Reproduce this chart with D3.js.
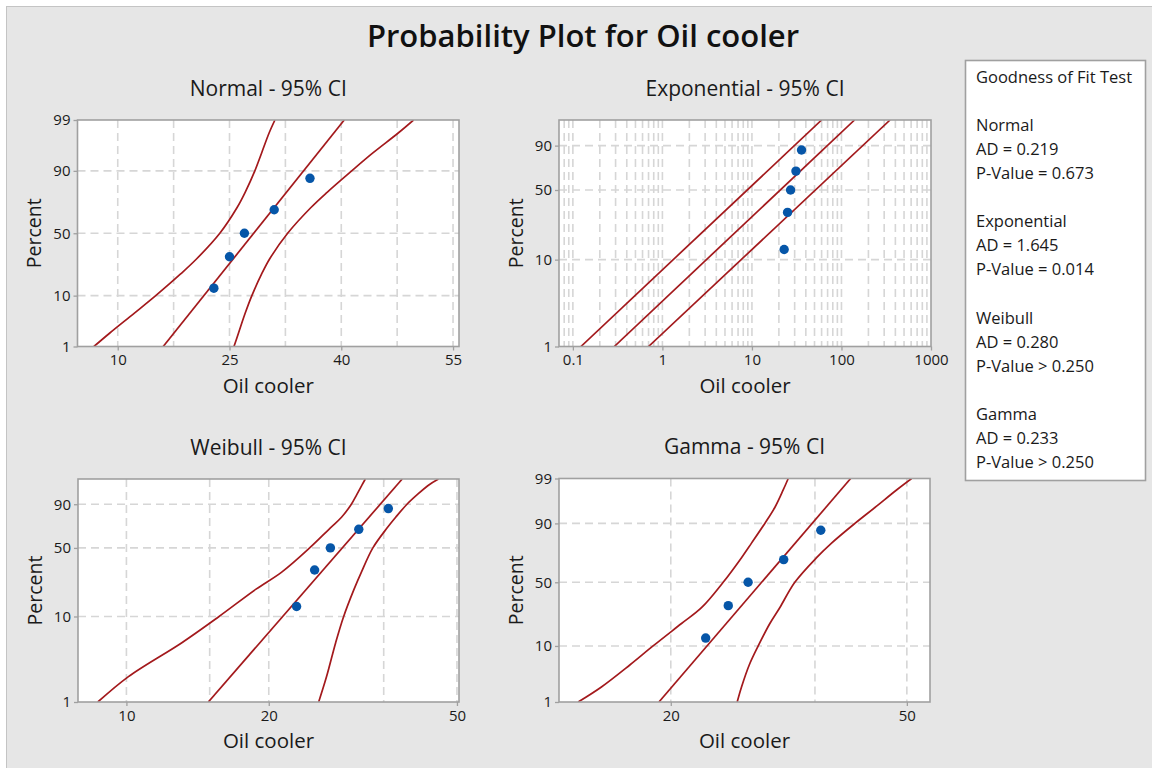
<!DOCTYPE html>
<html lang="en">
<head>
<meta charset="utf-8">
<script src="https://d3js.org/d3.v7.min.js"></script>
<style>
  body { margin: 0; padding: 0; background: #fff; }
  svg { display: block; font-family: "Open Sans", "Noto Sans", sans-serif; }
</style>
</head>
<body>
<svg id="chart" width="1152" height="768"></svg>
<script>
// oil cooler values and their plotting positions (median ranks, %)
const oilCooler = [22.9, 25.0, 27.0, 31.0, 35.8];
const plotPct = [12.96, 31.48, 50, 68.52, 87.04];

const bandPct = [1, 2, 5, 10, 20, 30, 50, 70, 80, 90, 95, 98, 99];
const fitPct = [1, 99];

const normalFit = [16.1, 40.4];
const normalLower = [6.8, 8.9, 12.2, 15.1, 18.4, 20.6, 23.7, 26.0, 27.1, 28.4, 29.3, 30.3, 31.1];
const normalUpper = [25.6, 26.2, 27.1, 28.0, 29.3, 30.4, 32.8, 35.9, 38.1, 41.4, 44.2, 47.6, 49.7];

const expFit = [0.29, 140];
const expLower = [0.123, 60];
const expUpper = [0.70, 349];

const weibullFit = [14.9, 38.3];
const weibullLower = [8.7, 10.1, 13.1, 15.7, 18.8, 21.3, 24.4, 27.0, 28.5, 29.9, 30.7, 31.5, 32.0];
const weibullUpper = [25.5, 26.5, 27.7, 28.8, 30.3, 31.4, 33.2, 35.6, 37.1, 39.2, 41.2, 43.6, 45.7];

const gammaFit = [19.1, 40.2];
const gammaLower = [13.96, 15.28, 17.06, 18.67, 20.85, 22.53, 24.51, 26.32, 27.36, 28.81, 29.95, 30.94, 31.55];
const gammaUpper = [25.88, 26.32, 27.12, 28.08, 29.38, 30.53, 32.37, 35.22, 37.33, 40.87, 44.17, 48.04, 50.93];

// tick labels and grid values
const normalXTicks = [10, 25, 40, 55];
const normalXGrid = [10, 17.5, 25, 32.5, 40, 47.5, 55];
const expXTicks = [0.1, 1, 10, 100, 1000];
const weibullXTicks = [10, 20, 50];
const weibullXGrid = [10, 15, 20, 35, 50];
const gammaXTicks = [20, 50];
const gammaXGrid = [20, 35, 50];
const yTicksFull = [1, 10, 50, 90, 99];
const yTicksShort = [1, 10, 50, 90];
const yGrid = [10, 50, 90];

const fitRows = [
  "Goodness of Fit Test", "",
  "Normal", "AD = 0.219", "P-Value = 0.673", "",
  "Exponential", "AD = 1.645", "P-Value = 0.014", "",
  "Weibull", "AD = 0.280", "P-Value > 0.250", "",
  "Gamma", "AD = 0.233", "P-Value > 0.250"
];

// inverse normal cdf (Acklam)
function qnorm(p) {
  const a = [-39.69683028665376, 220.9460984245205, -275.9285104469687, 138.3577518672690, -30.66479806614716, 2.506628277459239];
  const b = [-54.47609879822406, 161.5858368580409, -155.6989798598866, 66.80131188771972, -13.28068155288572];
  const c = [-0.007784894002430293, -0.3223964580411365, -2.400758277161838, -2.549732539343734, 4.374664141464968, 2.938163982698783];
  const d = [0.007784695709041462, 0.3224671290700398, 2.445134137142996, 3.754408661907416];
  const pl = 0.02425;
  let q, r;
  if (p < pl) {
    q = Math.sqrt(-2 * Math.log(p));
    return (((((c[0]*q+c[1])*q+c[2])*q+c[3])*q+c[4])*q+c[5]) / ((((d[0]*q+d[1])*q+d[2])*q+d[3])*q+1);
  }
  if (p > 1 - pl) {
    q = Math.sqrt(-2 * Math.log(1 - p));
    return -(((((c[0]*q+c[1])*q+c[2])*q+c[3])*q+c[4])*q+c[5]) / ((((d[0]*q+d[1])*q+d[2])*q+d[3])*q+1);
  }
  q = p - 0.5; r = q * q;
  return (((((a[0]*r+a[1])*r+a[2])*r+a[3])*r+a[4])*r+a[5])*q / (((((b[0]*r+b[1])*r+b[2])*r+b[3])*r+b[4])*r+1);
}
const smallest = p => Math.log(-Math.log(1 - p));
const gammaShape = 30;
const gammaT = p => 3 * Math.log(1 - 1 / (9 * gammaShape) + qnorm(p) / (3 * Math.sqrt(gammaShape)));

const panels = [
  { title: "Normal - 95% CI", x0: 77.5, x1: 459, y0: 120, y1: 346.5,
    xs: d3.scaleLinear().domain([4.6, 55.8]), xTicks: normalXTicks, xGrid: normalXGrid,
    yT: qnorm, yTicks: yTicksFull, fit: normalFit, lower: normalLower, upper: normalUpper, bandsStraight: false },
  { title: "Exponential - 95% CI", x0: 559, x1: 931, y0: 120, y1: 346.5,
    xs: d3.scaleLog().domain([0.07, 1000]), xTicks: expXTicks, xGrid: null,
    yT: smallest, yTicks: yTicksShort, fit: expFit, lower: expLower, upper: expUpper, bandsStraight: true },
  { title: "Weibull - 95% CI", x0: 78, x1: 459, y0: 479, y1: 702,
    xs: d3.scaleLog().domain([7.9, 50.5]), xTicks: weibullXTicks, xGrid: weibullXGrid,
    yT: smallest, yTicks: yTicksShort, fit: weibullFit, lower: weibullLower, upper: weibullUpper, bandsStraight: false },
  { title: "Gamma - 95% CI", x0: 559, x1: 930, y0: 478.5, y1: 702,
    xs: d3.scaleLog().domain([12.96, 54.7]), xTicks: gammaXTicks, xGrid: gammaXGrid,
    yT: gammaT, yTicks: yTicksFull, fit: gammaFit, lower: gammaLower, upper: gammaUpper, bandsStraight: false }
];

const svg = d3.select("#chart");
const ink = "#1a1a1a";
const red = "#a3191c";
const frame = "#a0a0a0";

svg.append("rect").attr("x", 0).attr("y", 0).attr("width", 1152).attr("height", 768).attr("fill", "#fff");
svg.append("rect").attr("x", 6.5).attr("y", 6.5).attr("width", 1150).attr("height", 766)
   .attr("fill", "#e6e6e6").attr("stroke", "#c4c4c4").attr("stroke-width", 1);

svg.append("text").attr("x", 583).attr("y", 47).attr("text-anchor", "middle")
   .attr("font-size", 31).attr("font-weight", 600).attr("fill", "#111")
   .text("Probability Plot for Oil cooler");

panels.forEach((P, pi) => {
  const w = P.x1 - P.x0, h = P.y1 - P.y0;
  const xs = P.xs.range([0, w]);
  const yl = d3.scaleLinear().domain([P.yT(0.01), P.yT(0.99)]).range([h, 0]);
  const ys = pct => yl(P.yT(pct / 100));

  const g = svg.append("g").attr("transform", `translate(${P.x0},${P.y0})`);
  g.append("rect").attr("width", w).attr("height", h).attr("fill", "#fff");

  const clipId = "clip" + pi;
  g.append("clipPath").attr("id", clipId).append("rect").attr("width", w).attr("height", h);

  // grid
  const vGrid = P.xGrid ? P.xGrid : xs.ticks().filter(v => xs(v) > 1 && xs(v) < w - 1);
  g.append("g").selectAll("line").data(vGrid).join("line")
    .attr("x1", d => xs(d)).attr("x2", d => xs(d)).attr("y1", 0).attr("y2", h)
    .attr("stroke", "#d6d6d6").attr("stroke-width", 1.6).attr("stroke-dasharray", "8,5");
  g.append("g").selectAll("line").data(yGrid).join("line")
    .attr("x1", 0).attr("x2", w).attr("y1", d => ys(d)).attr("y2", d => ys(d))
    .attr("stroke", "#d6d6d6").attr("stroke-width", 1.6).attr("stroke-dasharray", "8,5");

  // fit line and confidence bands
  const curves = g.append("g").attr("clip-path", `url(#${clipId})`);
  const line = d3.line().x(d => xs(d[0])).y(d => ys(d[1])).curve(d3.curveCatmullRom.alpha(0.5));
  const bandP = P.bandsStraight ? fitPct : bandPct;
  [[P.lower, bandP], [P.fit, fitPct], [P.upper, bandP]].forEach(([vals, pcts]) => {
    curves.append("path").datum(vals.map((v, i) => [v, pcts[i]]))
      .attr("d", line).attr("fill", "none").attr("stroke", red).attr("stroke-width", 1.7);
  });

  // points
  g.append("g").selectAll("circle").data(oilCooler).join("circle")
    .attr("cx", d => xs(d)).attr("cy", (d, i) => ys(plotPct[i]))
    .attr("r", 4.7).attr("fill", "#0656a8");

  g.append("rect").attr("width", w).attr("height", h).attr("fill", "none")
    .attr("stroke", frame).attr("stroke-width", 1.6);

  // axes
  const ax = g.append("g").attr("transform", `translate(0,${h})`)
    .call(d3.axisBottom(xs).tickValues(P.xTicks).tickSize(4).tickPadding(4).tickFormat(d => String(d)));
  const ay = g.append("g")
    .call(d3.axisLeft(yl).tickValues(P.yTicks.map(p => P.yT(p / 100))).tickSize(4).tickPadding(3)
      .tickFormat((d, i) => String(P.yTicks[i])));
  [ax, ay].forEach(a => {
    a.select(".domain").remove();
    a.selectAll(".tick line").attr("stroke", frame).attr("stroke-width", 1.3);
    a.selectAll("text").attr("font-size", 15).attr("fill", ink).attr("font-family", "Open Sans, sans-serif");
  });

  g.append("text").attr("x", w / 2).attr("y", -24.5).attr("text-anchor", "middle")
    .attr("font-size", 21).attr("fill", ink).text(P.title);
  g.append("text").attr("x", w / 2).attr("y", h + 46).attr("text-anchor", "middle")
    .attr("font-size", 20.5).attr("fill", ink).text("Oil cooler");
  g.append("text").attr("transform", `translate(-36.5,${h / 2}) rotate(-90)`).attr("text-anchor", "middle")
    .attr("font-size", 19.5).attr("fill", ink).text("Percent");
});

// goodness of fit box
const lg = svg.append("g");
lg.append("rect").attr("x", 965.5).attr("y", 60.5).attr("width", 180).attr("height", 420)
  .attr("fill", "#fff").attr("stroke", frame).attr("stroke-width", 1.6);
lg.selectAll("text").data(fitRows).join("text")
  .attr("x", 976).attr("y", (d, i) => 82.5 + i * 24.1)
  .attr("font-size", 16.5).attr("fill", ink).text(d => d);
</script>
</body>
</html>
